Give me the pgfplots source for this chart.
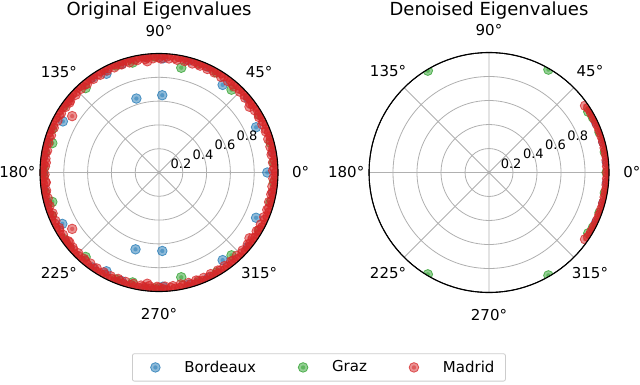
\documentclass[border=0pt]{standalone}
\usepackage{fontspec}
\setmainfont{DejaVu Sans}
\usepackage{pgfplots}
\pgfplotsset{compat=1.18}
\usepgfplotslibrary{polar}
\definecolor{tblue}{HTML}{1F77B4}
\definecolor{tgreen}{HTML}{2CA02C}
\definecolor{tred}{HTML}{D62728}
\pgfdeclareplotmark{eig}{%
  \pgfpathcircle{\pgfpointorigin}{\pgfplotmarksize}%
  \pgfusepath{fill,stroke}%
  \pgfpathcircle{\pgfpointorigin}{0.45\pgfplotmarksize}%
  \pgfusepath{fill}%
}
\newcommand\tf{\fontsize{15}{18}\selectfont}
\newcommand\rf{\fontsize{13}{15}\selectfont}
\newcommand\ttf{\fontsize{18}{21}\selectfont}
\pgfplotsset{
  eigs/.style={only marks, mark=eig, mark size=4.8pt,
    mark options={fill=#1, draw=#1, fill opacity=0.5, draw opacity=0.75, line width=0.8pt}},
  mypolar/.style={
    scale only axis, anchor=origin,
    ymin=0, ymax=1,
    xtick={0,45,...,315}, ytick={0.2,0.4,0.6,0.8},
    xticklabel={\mbox{}}, yticklabel={\mbox{}},
    major tick length=0pt,
    grid=major, major grid style={draw=black!31, line width=0.8pt},
    x axis line style={draw=black, line width=1.1pt},
    y axis line style={draw=none},
    clip mode=individual,
  },
}
\newcommand\polarlabels[1]{%
  \draw[white, line width=9pt] (axis cs:0,0) circle[radius=#1pt+4.8pt];
  \draw[black, line width=1.1pt] (axis cs:0,0) circle[radius=#1pt];
  \node[font=\tf] at (axis cs:0,1.19) {0°};
  \node[font=\tf] at (axis cs:45,1.19) {45°};
  \node[font=\tf] at (axis cs:90,1.19) {90°};
  \node[font=\tf] at (axis cs:135,1.19) {135°};
  \node[font=\tf] at (axis cs:180,1.19) {180°};
  \node[font=\tf] at (axis cs:225,1.19) {225°};
  \node[font=\tf] at (axis cs:270,1.19) {270°};
  \node[font=\tf] at (axis cs:315,1.19) {315°};
  \node[font=\rf] at (axis cs:22.5,0.2) {0.2};
  \node[font=\rf] at (axis cs:22.5,0.4) {0.4};
  \node[font=\rf] at (axis cs:22.5,0.6) {0.6};
  \node[font=\rf] at (axis cs:22.5,0.8) {0.8};
}
\begin{document}
\begin{tikzpicture}
\useasboundingbox (0pt,0pt) rectangle (640pt,384pt);
% ---------------- left ----------------
\begin{polaraxis}[mypolar, at={(159pt,211.5pt)}, width=238pt, height=238pt,
  legend columns=3,
  legend image code/.code={\path[draw=none,fill=none] (-14pt,-5pt) rectangle (14pt,5pt);
     \draw[#1] plot coordinates {(0pt,0pt)};},
  legend style={at={(1.172,-0.319)}, anchor=center, draw=black!20, line width=0.8pt,
     rounded corners=2pt, fill=white, font=\tf, inner xsep=9pt, inner ysep=5pt,
     column sep=13pt, /tikz/every even column/.append style={column sep=31pt},
     nodes={inner sep=2pt, text depth=0.2em}},
]
\addplot[eigs=tblue] coordinates {
(0,0.91)(25,0.90)(54,0.91)(87.6,0.65)(107,0.65)(118,0.94)(152,0.915)(88,0.96)(109,0.965)
(10,0.975)(40,0.975)(65,0.98)(75,0.975)(97,0.98)(125,0.975)(140,0.98)(165,0.975)(172,0.98)(180,0.975)
(335,0.90)(306,0.91)(272.4,0.66)(253,0.675)(242,0.94)(208,0.92)(272,0.96)(251,0.965)
(350,0.975)(320,0.975)(295,0.98)(285,0.975)(263,0.98)(235,0.975)(220,0.98)(195,0.975)(188,0.98)
};
\addlegendentry{Bordeaux}
\addplot[eigs=tgreen] coordinates {
(78,0.90)(48.8,0.925)(103.5,0.95)(131,0.94)(164.6,0.93)(15,0.97)(30,0.975)(60,0.97)(70,0.98)
(92,0.975)(112,0.97)(145,0.975)(158,0.97)(170,0.975)(178,0.97)(5,0.97)
(282,0.90)(311.2,0.925)(256.5,0.95)(229,0.94)(195.4,0.93)(345,0.97)(330,0.975)(300,0.97)(290,0.98)
(268,0.975)(248,0.97)(215,0.975)(202,0.97)(190,0.975)(182,0.97)(355,0.97)
};
\addlegendentry{Graz}
\addplot[eigs=tred] coordinates {
(147,0.87)(36,0.94)(96,0.94)(175,0.955)(142,0.955)
(213,0.87)(324,0.94)(264,0.94)(185,0.955)(218,0.955)
(0,0.985)(2,0.972)(4,0.992)(6,0.978)(8,0.988)(10,0.968)(12,0.982)(14,0.995)(16,0.975)(18,0.985)
(20,0.985)(22,0.972)(24,0.992)(26,0.978)(28,0.988)(30,0.968)(32,0.982)(34,0.995)(36,0.975)(38,0.985)
(40,0.985)(42,0.972)(44,0.992)(46,0.978)(48,0.988)(50,0.968)(52,0.982)(54,0.995)(56,0.975)(58,0.985)
(60,0.985)(62,0.972)(64,0.992)(66,0.978)(68,0.988)(70,0.968)(72,0.982)(74,0.995)(76,0.975)(78,0.985)
(80,0.985)(82,0.972)(84,0.992)(86,0.978)(88,0.988)(90,0.968)(92,0.982)(94,0.995)(96,0.975)(98,0.985)
(100,0.985)(102,0.972)(104,0.992)(106,0.978)(108,0.988)(110,0.968)(112,0.982)(114,0.995)(116,0.975)(118,0.985)
(120,0.985)(122,0.972)(124,0.992)(126,0.978)(128,0.988)(130,0.968)(132,0.982)(134,0.995)(136,0.975)(138,0.985)
(140,0.985)(142,0.972)(144,0.992)(146,0.978)(148,0.988)(150,0.968)(152,0.982)(154,0.995)(156,0.975)(158,0.985)
(160,0.985)(162,0.972)(164,0.992)(166,0.978)(168,0.988)(170,0.968)(172,0.982)(174,0.995)(176,0.975)(178,0.985)
(180,0.985)(182,0.972)(184,0.992)(186,0.978)(188,0.988)(190,0.968)(192,0.982)(194,0.995)(196,0.975)(198,0.985)
(200,0.985)(202,0.972)(204,0.992)(206,0.978)(208,0.988)(210,0.968)(212,0.982)(214,0.995)(216,0.975)(218,0.985)
(220,0.985)(222,0.972)(224,0.992)(226,0.978)(228,0.988)(230,0.968)(232,0.982)(234,0.995)(236,0.975)(238,0.985)
(240,0.985)(242,0.972)(244,0.992)(246,0.978)(248,0.988)(250,0.968)(252,0.982)(254,0.995)(256,0.975)(258,0.985)
(260,0.985)(262,0.972)(264,0.992)(266,0.978)(268,0.988)(270,0.968)(272,0.982)(274,0.995)(276,0.975)(278,0.985)
(280,0.985)(282,0.972)(284,0.992)(286,0.978)(288,0.988)(290,0.968)(292,0.982)(294,0.995)(296,0.975)(298,0.985)
(300,0.985)(302,0.972)(304,0.992)(306,0.978)(308,0.988)(310,0.968)(312,0.982)(314,0.995)(316,0.975)(318,0.985)
(320,0.985)(322,0.972)(324,0.992)(326,0.978)(328,0.988)(330,0.968)(332,0.982)(334,0.995)(336,0.975)(338,0.985)
(340,0.985)(342,0.972)(344,0.992)(346,0.978)(348,0.988)(350,0.968)(352,0.982)(354,0.995)(356,0.975)(358,0.985)
(1,0.96)(5,0.962)(9,0.958)(13,0.961)(17,0.96)(21,0.962)(25,0.958)(29,0.961)(33,0.96)(37,0.962)
(41,0.958)(45,0.961)(49,0.96)(53,0.962)(57,0.958)(61,0.961)(65,0.96)(69,0.962)(73,0.958)(77,0.961)
(81,0.96)(85,0.962)(89,0.958)(93,0.961)(97,0.96)(101,0.962)(105,0.958)(109,0.961)(113,0.96)(117,0.962)
(121,0.958)(125,0.961)(129,0.96)(133,0.962)(137,0.958)(141,0.961)(145,0.96)(149,0.962)(153,0.958)(157,0.961)
(161,0.96)(165,0.962)(169,0.958)(173,0.961)(177,0.96)(181,0.962)(185,0.958)(189,0.961)(193,0.96)(197,0.962)
(201,0.958)(205,0.961)(209,0.96)(213,0.962)(217,0.958)(221,0.961)(225,0.96)(229,0.962)(233,0.958)(237,0.961)
(241,0.96)(245,0.962)(249,0.958)(253,0.961)(257,0.96)(261,0.962)(265,0.958)(269,0.961)(273,0.96)(277,0.962)
(281,0.958)(285,0.961)(289,0.96)(293,0.962)(297,0.958)(301,0.961)(305,0.96)(309,0.962)(313,0.958)(317,0.961)
(321,0.96)(325,0.962)(329,0.958)(333,0.961)(337,0.96)(341,0.962)(345,0.958)(349,0.961)(353,0.96)(357,0.962)
};
\addlegendentry{Madrid}
\polarlabels{119}
\end{polaraxis}
% ---------------- right ----------------
\begin{polaraxis}[mypolar, at={(489pt,211.5pt)}, width=240pt, height=240pt]
\addplot[eigs=tblue] coordinates {(5,0.985)(-5,0.985)(15,0.985)(-15,0.985)(25,0.985)(-25,0.985)};
\addplot[eigs=tgreen] coordinates {
(121,0.99)(60,0.99)(239,0.99)(300,0.99)(31.5,0.97)(-31.5,0.97)
(0,0.98)(10,0.98)(-10,0.98)(20,0.98)(-20,0.98)(28,0.98)(-28,0.98)};
\addplot[eigs=tred] coordinates {
(34.8,0.975)(-34.8,0.975)
(33,0.985)(31.5,0.99)(30,0.985)(28.5,0.99)(27,0.985)(25.5,0.99)(24,0.985)(22.5,0.99)(21,0.985)(19.5,0.99)
(18,0.985)(16.5,0.99)(15,0.985)(13.5,0.99)(12,0.985)(10.5,0.99)(9,0.985)(7.5,0.99)(6,0.985)(4.5,0.99)
(3,0.985)(1.5,0.99)(0,0.985)(-1.5,0.99)(-3,0.985)(-4.5,0.99)(-6,0.985)(-7.5,0.99)(-9,0.985)(-10.5,0.99)
(-12,0.985)(-13.5,0.99)(-15,0.985)(-16.5,0.99)(-18,0.985)(-19.5,0.99)(-21,0.985)(-22.5,0.99)(-24,0.985)
(-25.5,0.99)(-27,0.985)(-28.5,0.99)(-30,0.985)(-31.5,0.99)(-33,0.985)};
\polarlabels{120}
\end{polaraxis}
\node[font=\ttf, anchor=base] at (159pt,369pt) {Original Eigenvalues};
\node[font=\ttf, anchor=base] at (489pt,369pt) {Denoised Eigenvalues};
\end{tikzpicture}
\end{document}
